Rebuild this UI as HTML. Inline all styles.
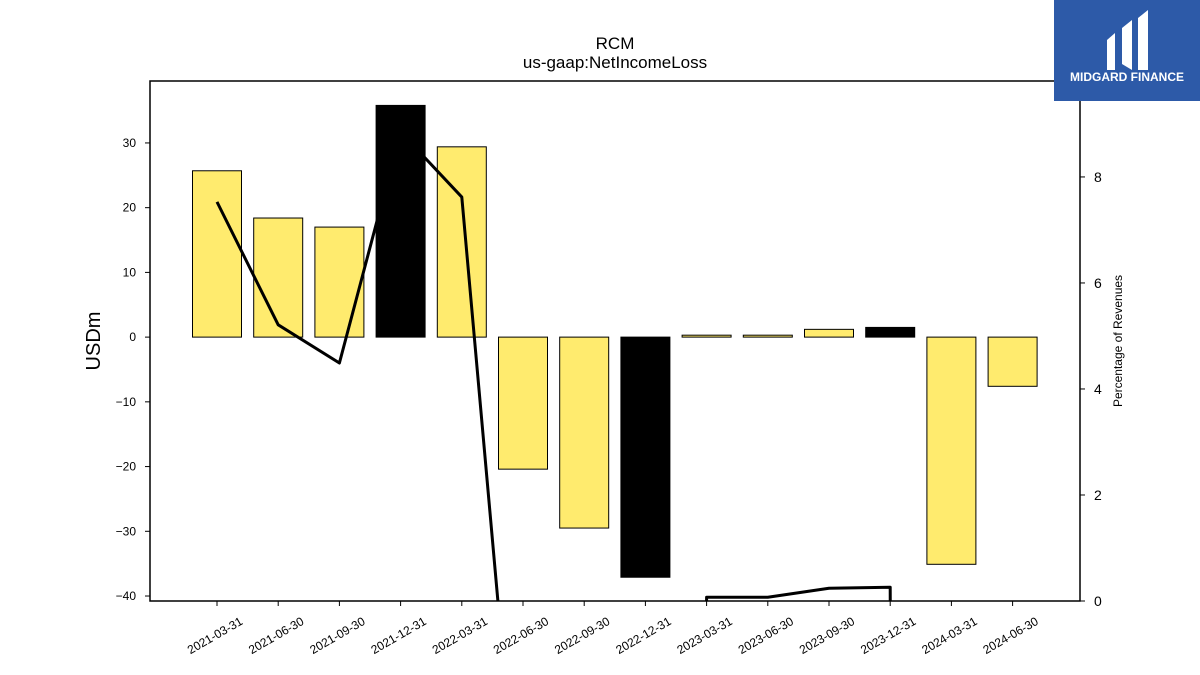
<!DOCTYPE html>
<html><head><meta charset="utf-8"><style>
html,body{margin:0;background:#fff;overflow:hidden;width:1200px;height:675px;}
svg{display:block;}
svg text{font-family:"Liberation Sans","DejaVu Sans",sans-serif;}
</style></head><body>
<svg id="chart" width="1200" height="675" xmlns="http://www.w3.org/2000/svg">
<defs><clipPath id="plotclip"><rect x="150" y="81" width="930" height="520"/></clipPath></defs>
<text x="615" y="49" text-anchor="middle" font-size="17">RCM</text>
<text x="615" y="68" text-anchor="middle" font-size="17">us-gaap:NetIncomeLoss</text>
<g id="barLayer"></g>
<g id="lineLayer" clip-path="url(#plotclip)"></g>
<rect x="150" y="81" width="930" height="520" fill="none" stroke="#000" stroke-width="1.5"/>
<g id="axes"></g>
<text transform="translate(100,341) rotate(-90)" text-anchor="middle" font-size="20">USDm</text>
<text transform="translate(1122,341) rotate(-90)" text-anchor="middle" font-size="12">Percentage of Revenues</text>
<g>
<rect x="1054" y="0" width="146" height="101" fill="#2d5aa8"/>
<path d="M1107 40 L1115 33 L1115 70 L1107 70 Z M1122 28 L1132 20 L1132 70 L1122 64 Z M1138 18 L1148 10 L1148 70 L1138 70 Z" fill="#fff"/>
<text x="1127" y="81" text-anchor="middle" font-size="12" font-weight="bold" fill="#fff">MIDGARD FINANCE</text>
</g>
</svg>
<script>
const categories=["2021-03-31","2021-06-30","2021-09-30","2021-12-31","2022-03-31","2022-06-30","2022-09-30","2022-12-31","2023-03-31","2023-06-30","2023-09-30","2023-12-31","2024-03-31","2024-06-30"];
const netIncome=[25.7,18.4,17.0,35.8,29.4,-20.4,-29.5,-37.1,0.3,0.3,1.2,1.5,-35.1,-7.6];
const pctRevenue=[7.53,5.21,4.49,8.85,7.62,-5.3,-60,-200,0.07,0.07,0.24,0.26,-300,-50];
const leftTicks=[-40,-30,-20,-10,0,10,20,30];
const rightTicks=[0,2,4,6,8];
const NS="http://www.w3.org/2000/svg";
const X0=150,X1=1080,Y0=81,Y1=601;
const yMin=-40.77,yMax=39.57,y2Min=0,y2Max=9.81;
function xPos(i){return 217+i*61.2;}
function yL(v){return Y1-(v-yMin)/(yMax-yMin)*(Y1-Y0);}
function yR(v){return Y1-(v-y2Min)/(y2Max-y2Min)*(Y1-Y0);}
function mk(tag,attrs,parent){const e=document.createElementNS(NS,tag);for(const k in attrs)e.setAttribute(k,attrs[k]);parent.appendChild(e);return e;}
const barLayer=document.getElementById('barLayer'),lineLayer=document.getElementById('lineLayer'),axes=document.getElementById('axes');
let d=pctRevenue.map((v,i)=>(i?'L':'M')+xPos(i)+' '+yR(v)).join(' ');
const ln=mk('path',{d:d,fill:'none',stroke:'#000','stroke-width':3,'stroke-linejoin':'round'},lineLayer);


categories.forEach((c,i)=>{
 const v=netIncome[i];const q4=c.endsWith('12-31');
 const b=mk('rect',{x:xPos(i)-24.5,y:Math.min(yL(v),yL(0)),width:49,height:Math.abs(yL(v)-yL(0)),fill:q4?'#000':'#ffeb6e',stroke:'#000','stroke-width':1},barLayer);
 
 
 mk('line',{x1:xPos(i),x2:xPos(i),y1:Y1,y2:Y1+5,stroke:'#000'},axes);
 const t=mk('text',{transform:`translate(${xPos(i)},${Y1+38}) rotate(-30)`,'text-anchor':'middle','font-size':12},axes);
 t.textContent=c;
 
 
});
leftTicks.forEach(v=>{
 mk('line',{x1:X0-5,x2:X0,y1:yL(v),y2:yL(v),stroke:'#000'},axes);
 const t=mk('text',{x:X0-14,y:yL(v)+4,'text-anchor':'end','font-size':12},axes);
 t.textContent=v<0?'\u2212'+Math.abs(v):v;
 
 
});
rightTicks.forEach(v=>{
 mk('line',{x1:X1,x2:X1+5,y1:yR(v),y2:yR(v),stroke:'#000'},axes);
 const t=mk('text',{x:X1+14,y:yR(v)+5,'font-size':14},axes);
 t.textContent=v;
 
 
});
</script>
</body></html>
